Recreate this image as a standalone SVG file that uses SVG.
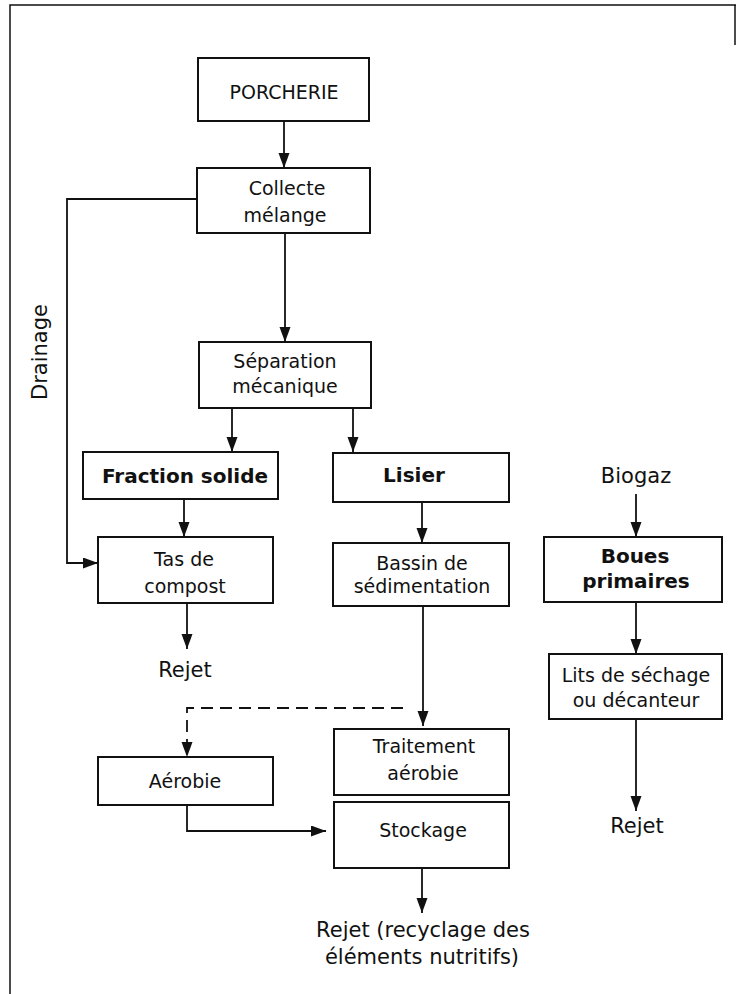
<svg xmlns="http://www.w3.org/2000/svg" width="736" height="994" viewBox="0 0 736 994">
<style>
.box{fill:#fff;stroke:#111;stroke-width:2}
.t{font-family:"DejaVu Sans","Liberation Sans",sans-serif;font-size:19px;fill:#111;text-anchor:middle}
.b{font-family:"DejaVu Sans","Liberation Sans",sans-serif;font-size:20px;font-weight:bold;fill:#111;text-anchor:middle}
.o{font-family:"DejaVu Sans","Liberation Sans",sans-serif;font-size:21px;fill:#111;text-anchor:middle}
.c{fill:none;stroke:#111;stroke-width:1.8}
.d{fill:none;stroke:#111;stroke-width:1.8;stroke-dasharray:12 7}
.frame{fill:none;stroke:#111;stroke-width:1.5}
</style>
<defs>
<marker id="ah" markerUnits="userSpaceOnUse" markerWidth="15" markerHeight="12" refX="15" refY="5.5" orient="auto">
<path d="M0,0 L15,5.5 L0,11 z" fill="#111"/>
</marker>
</defs>
<rect width="736" height="994" fill="#fff"/>
<g id="frame">
<path class="frame" d="M10,994 L10,5 L736,5"/>
<path class="frame" d="M735,5 L735,45"/>
</g>
<g id="connectors">
<path class="c" d="M284,121 L284,168" marker-end="url(#ah)"/>
<path class="c" d="M285,233 L285,342" marker-end="url(#ah)"/>
<path class="c" d="M197,199 L67,199 L67,563 L98,563" marker-end="url(#ah)"/>
<path class="c" d="M232,408 L232,452" marker-end="url(#ah)"/>
<path class="c" d="M353,408 L353,452" marker-end="url(#ah)"/>
<path class="c" d="M184,499 L184,537" marker-end="url(#ah)"/>
<path class="c" d="M187,603 L187,649" marker-end="url(#ah)"/>
<path class="c" d="M422,502 L422,543" marker-end="url(#ah)"/>
<path class="c" d="M423,606 L423,726" marker-end="url(#ah)"/>
<path class="d" d="M403,708 L187,708 L187,757" marker-end="url(#ah)"/>
<path class="c" d="M187,805 L187,831 L326,831" marker-end="url(#ah)"/>
<path class="c" d="M422,868 L422,913" marker-end="url(#ah)"/>
<path class="c" d="M636,494 L636,537" marker-end="url(#ah)"/>
<path class="c" d="M636,602 L636,654" marker-end="url(#ah)"/>
<path class="c" d="M636,719 L636,811" marker-end="url(#ah)"/>
</g>
<g id="porcherie">
<rect class="box" x="198" y="58" width="171" height="63"/>
<text class="t" x="284" y="99">PORCHERIE</text>
</g>
<g id="collecte">
<rect class="box" x="197" y="168" width="173" height="65"/>
<text class="t" x="287" y="195">Collecte</text>
<text class="t" x="285" y="222">mélange</text>
</g>
<g id="drainage">
<text class="o" transform="translate(47,352) rotate(-90)" x="0" y="0">Drainage</text>
</g>
<g id="separation">
<rect class="box" x="199" y="342" width="172" height="66"/>
<text class="t" x="285" y="368">Séparation</text>
<text class="t" x="285" y="393">mécanique</text>
</g>
<g id="fraction">
<rect class="box" x="83" y="452" width="195" height="47"/>
<text class="b" x="185" y="483">Fraction solide</text>
</g>
<g id="lisier">
<rect class="box" x="333" y="453" width="176" height="49"/>
<text class="b" x="414" y="482">Lisier</text>
</g>
<g id="tas">
<rect class="box" x="98" y="537" width="175" height="66"/>
<text class="t" x="184" y="566">Tas de</text>
<text class="t" x="185" y="593">compost</text>
</g>
<g id="rejet1">
<text class="o" x="185" y="677">Rejet</text>
</g>
<g id="bassin">
<rect class="box" x="333" y="543" width="176" height="63"/>
<text class="t" x="422" y="570">Bassin de</text>
<text class="t" x="422" y="593">sédimentation</text>
</g>
<g id="biogaz">
<text class="o" x="636" y="483">Biogaz</text>
</g>
<g id="boues">
<rect class="box" x="544" y="537" width="178" height="65"/>
<text class="b" x="635" y="563">Boues</text>
<text class="b" x="636" y="588">primaires</text>
</g>
<g id="lits">
<rect class="box" x="549" y="654" width="173" height="65"/>
<text class="t" x="636" y="682">Lits de séchage</text>
<text class="t" x="636" y="707">ou décanteur</text>
</g>
<g id="rejet2">
<text class="o" x="637" y="833">Rejet</text>
</g>
<g id="aerobie">
<rect class="box" x="98" y="757" width="175" height="48"/>
<text class="t" x="185" y="788">Aérobie</text>
</g>
<g id="traitement">
<rect class="box" x="334" y="729" width="175" height="66"/>
<text class="t" x="424" y="753">Traitement</text>
<text class="t" x="423" y="780">aérobie</text>
</g>
<g id="stockage">
<rect class="box" x="334" y="802" width="175" height="66"/>
<text class="t" x="423" y="837">Stockage</text>
</g>
<g id="rejet3">
<text class="o" x="423" y="937">Rejet (recyclage des</text>
<text class="o" x="422" y="964">éléments nutritifs)</text>
</g>
</svg>
